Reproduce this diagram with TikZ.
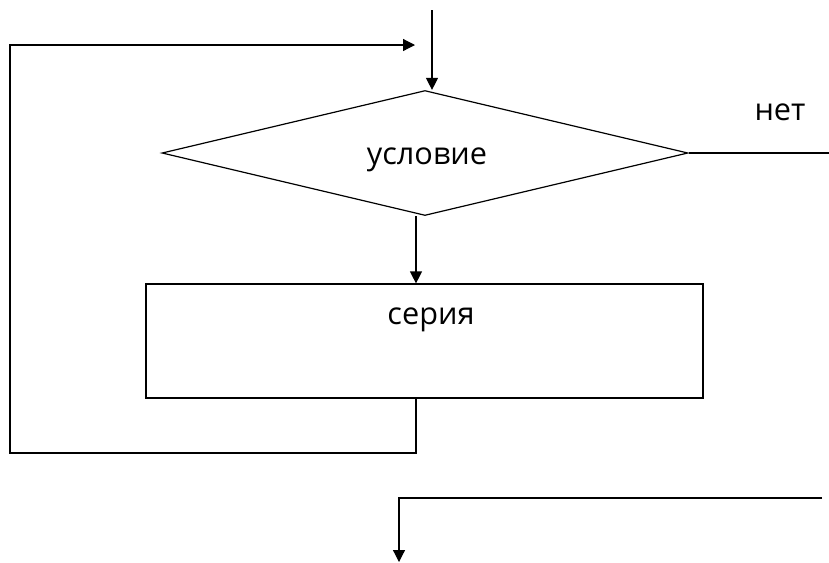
\documentclass[tikz,border=0pt]{standalone}
\usepackage{fontspec}
\setmainfont{Open Sans}
\usetikzlibrary{arrows.meta,shapes.geometric,calc}

\begin{document}
\begin{tikzpicture}[x=0.75pt,y=-0.75pt,thick,line width=0.9pt,
                    every node/.style={font=\fontsize{23}{27}\selectfont,text height=1.5ex,text depth=0.25ex},
                    arr/.style={-{Triangle[length=9pt,width=9pt]}},
                    cond node/.style={diamond,draw,inner sep=0pt,minimum width=394.5pt,minimum height=93.75pt},
                    body node/.style={rectangle,draw,inner sep=0pt,minimum width=417.75pt,minimum height=85.5pt}]
  \useasboundingbox (0,0) rectangle (829,562);

  \node[cond node] (cond) at (425,153) {};
  \node (condlbl) at (427,160) {условие};
  \node[body node] (series) at (424.5,341) {};
  \node (serieslbl) at (431,320) {серия};
  \node (no) at (780,116) {нет};

  \coordinate (entry) at (432,10);
  \coordinate (exitR) at (829,155);
  \coordinate (condout) at ($(cond.south)+(-9,0)$);
  \coordinate (loopout) at ($(series.south)+(-8.5,0)$);
  \coordinate (loopin) at (415,45);
  \coordinate (exitin) at (822,498);
  \coordinate (exitout) at (399,562);

  \draw[arr] (entry) -- (entry |- cond.north);
  \draw[arr] (condout) -- (condout |- series.north);
  \draw (cond.east) -- (cond.east -| exitR);

  % back to the condition
  \draw[arr] (loopout) |- (10,453) -- (10,45) -- (loopin);

  \draw[arr] (exitin) -| (exitout);
\end{tikzpicture}
\end{document}
